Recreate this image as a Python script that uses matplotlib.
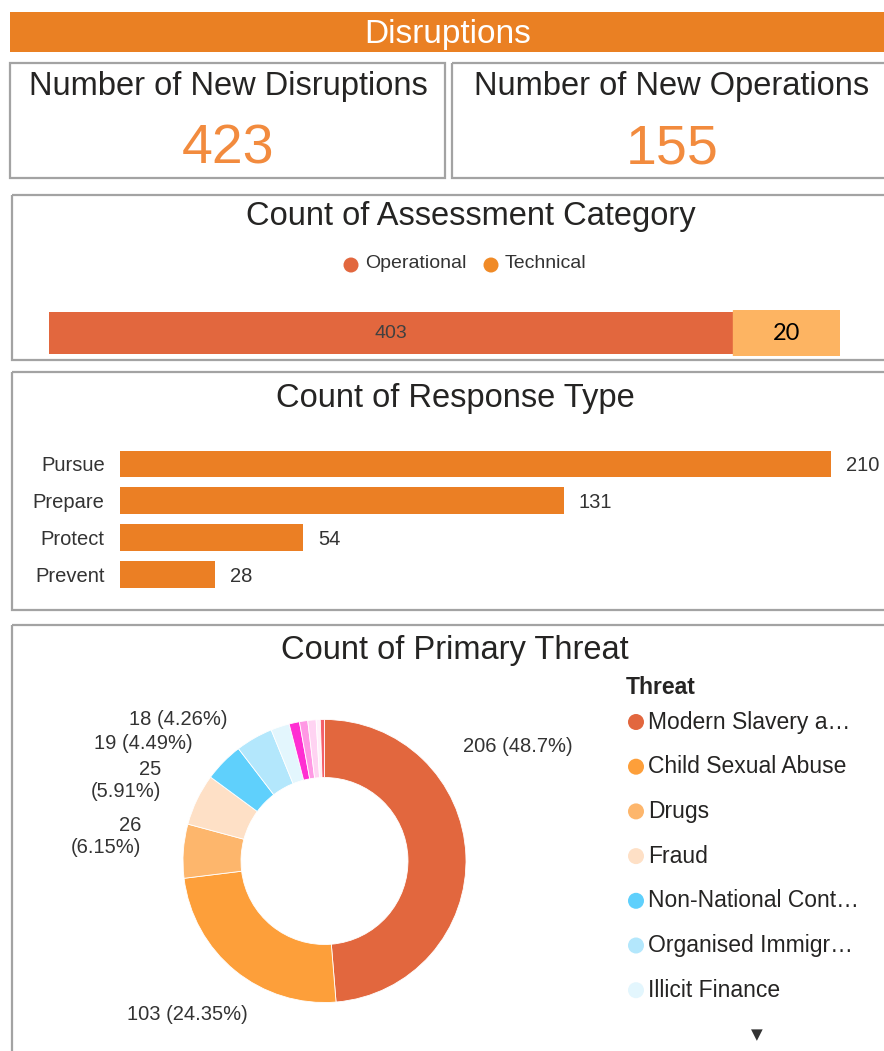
import matplotlib
matplotlib.use("Agg")
import matplotlib.pyplot as plt
from matplotlib.patches import Rectangle, Circle

plt.rcParams['font.family'] = ['Liberation Sans', 'DejaVu Sans']

# KPI cards
kpi_titles = ["Number of New Disruptions", "Number of New Operations"]
kpi_values = [423, 155]

# Count of Assessment Category
assess_cats = ["Operational", "Technical"]
assess_vals = [403, 20]

# Count of Response Type
resp_cats = ["Pursue", "Prepare", "Protect", "Prevent"]
resp_vals = [210, 131, 54, 28]

# Count of Primary Threat
threat_names = ["Modern Slavery a…", "Child Sexual Abuse", "Drugs", "Fraud",
                "Non-National Cont…", "Organised Immigr…", "Illicit Finance",
                "Firearms", "Cyber Crime", "Organised Acquisitive Crime",
                "Bribery and Corruption", "Other"]
threat_vals = [206, 103, 26, 25, 19, 18, 9, 5, 4, 4, 2, 2]
threat_colors = ["#E2673E", "#FD9F3A", "#FDB66C", "#FEE0C6", "#5FD0FC",
                 "#B3E7FC", "#E3F6FD", "#FF2ED2", "#FF98E4", "#FFD3F2",
                 "#FFF0FA", "#F4606A"]

W, H = 884, 1051
fig = plt.figure(figsize=(W / 100, H / 100), dpi=100)
fig.patch.set_facecolor("white")

bg = fig.add_axes([0, 0, 1, 1])
bg.set_xlim(0, W)
bg.set_ylim(H, 0)
bg.axis("off")


def px_axes(x0, y0, x1, y1):
    return fig.add_axes([x0 / W, 1 - y1 / H, (x1 - x0) / W, (y1 - y0) / H])


def card(x0, y0, x1, y1):
    bg.add_patch(Rectangle((x0, y0), x1 - x0, y1 - y0, fill=False,
                           ec="#A3A3A3", lw=1.6))


title_col = "#252423"
orange = "#EB7F24"

# header
bg.add_patch(Rectangle((10, 12), 890, 40, fc="#EA8023", ec="none"))
bg.text(448, 35, "Disruptions", color="white", fontsize=24,
        ha="center", va="center")

# KPI cards
card(10, 63, 445, 178)
card(452, 63, 900, 178)
for cx, t, v in zip([228, 672], kpi_titles, kpi_values):
    bg.text(cx, 87, t, fontsize=23.5, color=title_col, ha="center", va="center")
    bg.text(cx, 150, str(v), fontsize=40, color="#F28B3E", ha="center", va="center")

# assessment category card
card(12, 195, 900, 360)
bg.text(471, 216, "Count of Assessment Category", fontsize=23.5,
        color=title_col, ha="center", va="center")
leg_cols = ["#E2673E", "#F08A26"]
for lx, name, c in zip([351, 491], assess_cats, leg_cols):
    bg.add_patch(Circle((lx, 265), 7.5, fc=c, ec="none"))
    bg.text(lx + 14, 264, name, fontsize=14, color="#333333", va="center")

ax1 = px_axes(49, 310, 840, 356)
xmax1 = assess_vals[0] * (840 - 49) / (733 - 49)
ax1.barh(0, assess_vals[0], height=0.9, color=leg_cols[0])
ax1.barh(0, assess_vals[1], left=assess_vals[0], height=0.9, color=leg_cols[1])
ax1.axvspan(assess_vals[0], xmax1, color="#FDB462", zorder=3)
ax1.text(assess_vals[0] / 2, 0, str(assess_vals[0]), fontsize=14,
         color="#404040", ha="center", va="center")
ax1.text((assess_vals[0] + xmax1) / 2, 0, str(assess_vals[1]), fontsize=17,
         family=["Lato", "DejaVu Sans"], color="black", ha="center",
         va="center", zorder=4)
ax1.set_xlim(0, xmax1)
ax1.set_ylim(-0.5, 0.5)
ax1.axis("off")

# response type card
card(12, 372, 900, 610)
bg.text(455, 398, "Count of Response Type", fontsize=23.5, color=title_col,
        ha="center", va="center")
ax2 = px_axes(120, 441.9, 884, 596.5)
ypos = list(range(len(resp_cats)))
ax2.barh(ypos, resp_vals, height=0.73, color=orange)
for y, v in zip(ypos, resp_vals):
    ax2.annotate(str(v), (v, y), xytext=(15, -2), textcoords="offset pixels",
                 fontsize=14.5, color="#333333", va="center", ha="left",
                 annotation_clip=False)
ax2.set_xlim(0, 764 / (711 / 210))
ax2.set_ylim(len(resp_cats) - 0.4, -0.6)
ax2.set_yticks(ypos)
ax2.set_yticklabels(resp_cats, fontsize=14.5, color="#333333")
ax2.tick_params(axis="y", length=0, pad=11)
ax2.set_xticks([])
for s in ax2.spines.values():
    s.set_visible(False)

# primary threat card
card(12, 625, 900, 1060)
bg.text(455, 650, "Count of Primary Threat", fontsize=23.5, color=title_col,
        ha="center", va="center")

cx, cy, R = 324.5, 861, 141.5
half = 230
ax3 = px_axes(cx - half, cy - half, cx + half, cy + half)
ax3.pie(threat_vals, colors=threat_colors, startangle=90, counterclock=False,
        radius=1, wedgeprops=dict(width=0.41, edgecolor="white", linewidth=0.6))
L = half / R
ax3.set_xlim(-L, L)
ax3.set_ylim(-L, L)
ax3.set_aspect("equal")
ax3.axis("off")

total = sum(threat_vals)
# label placement (dx, dy in radii, alignment, two lines)
lab_pos = [(0.979, 0.810, "left", False), (-0.968, -1.085, "center", False),
           (-1.297, 0.174, "right", True), (-1.155, 0.566, "right", True),
           (-0.929, 0.831, "right", False), (-0.689, 1.001, "right", False)]
for v, (dx, dy, ha, two) in zip(threat_vals, lab_pos):
    pct = f"{100 * v / total:.2f}".rstrip("0").rstrip(".")
    sep = "\n" if two else " "
    ax3.text(dx, dy, f"{v}{sep}({pct}%)", fontsize=14.5, color="#333333",
             ha=ha, va="center", multialignment="right", linespacing=1.2)

# legend
bg.text(626, 688, "Threat", fontsize=16.5, fontweight="bold", color=title_col,
        va="center")
for i in range(7):
    ly = 722 + i * 44.7
    bg.add_patch(Circle((636, ly), 8, fc=threat_colors[i], ec="none"))
    bg.text(648, ly, threat_names[i], fontsize=16.5, color=title_col, va="center")
bg.text(757, 1035, "▼", fontsize=11, color="#333333", ha="center", va="center",
        family=["DejaVu Sans"])

fig.savefig("out.png", dpi=100, facecolor="white")
